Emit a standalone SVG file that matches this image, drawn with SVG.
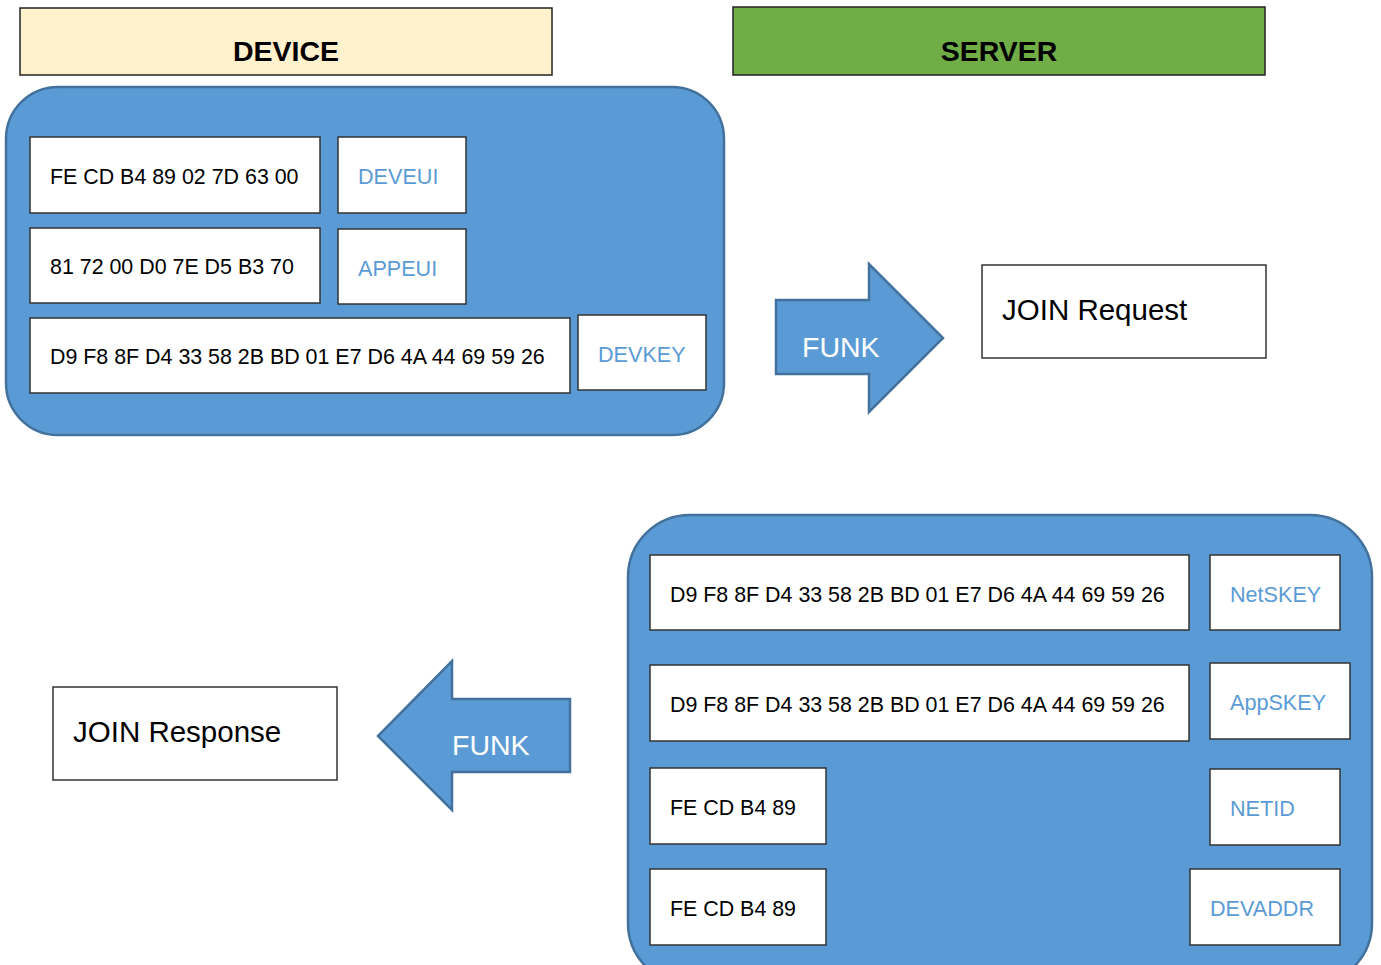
<svg xmlns="http://www.w3.org/2000/svg" width="1381" height="965" viewBox="0 0 1381 965">
  <style>
    .hdr { stroke: #222; stroke-width: 1.5; }
    .hdr-text { font-family: "Liberation Sans", Arial, sans-serif; font-weight: bold; font-size: 28.5px; fill: #000; text-anchor: middle; }
    .panel { fill: #5B9BD5; stroke: #41719C; stroke-width: 2.5; }
    .box { fill: #fff; stroke: #333; stroke-width: 1.5; }
    .hex { font-family: "Liberation Sans", Arial, sans-serif; font-size: 21.4px; fill: #000; }
    .lbl { font-family: "Liberation Sans", Arial, sans-serif; font-size: 21.6px; fill: #5B9BD5; }
    .arrow { fill: #5B9BD5; stroke: #41719C; stroke-width: 2.5; }
    .funk { font-family: "Liberation Sans", Arial, sans-serif; font-size: 28.5px; fill: #fff; }
    .msg { font-family: "Liberation Sans", Arial, sans-serif; font-size: 29.5px; fill: #000; }
  </style>

  <!-- column headers -->
  <g id="device-header">
    <rect class="hdr" x="20" y="8" width="532" height="67" fill="#FFF2CC"/>
    <text class="hdr-text" x="286" y="61">DEVICE</text>
  </g>
  <g id="server-header">
    <rect class="hdr" x="733" y="7" width="532" height="68" fill="#70AD47"/>
    <text class="hdr-text" x="999" y="61">SERVER</text>
  </g>

  <!-- device key store -->
  <g id="device-panel">
    <rect class="panel" x="6" y="87" width="718" height="348" rx="52" ry="52"/>
    <g id="deveui">
      <rect class="box" x="30" y="137" width="290" height="76"/>
      <text class="hex" x="50" y="184">FE CD B4 89 02 7D 63 00</text>
      <rect class="box" x="338" y="137" width="128" height="76"/>
      <text class="lbl" x="358" y="184">DEVEUI</text>
    </g>
    <g id="appeui">
      <rect class="box" x="30" y="228" width="290" height="75"/>
      <text class="hex" x="50" y="274">81 72 00 D0 7E D5 B3 70</text>
      <rect class="box" x="338" y="229" width="128" height="75"/>
      <text class="lbl" x="358" y="276">APPEUI</text>
    </g>
    <g id="devkey">
      <rect class="box" x="30" y="318" width="540" height="75"/>
      <text class="hex" x="50" y="364">D9 F8 8F D4 33 58 2B BD 01 E7 D6 4A 44 69 59 26</text>
      <rect class="box" x="578" y="315" width="128" height="75"/>
      <text class="lbl" x="598" y="362">DEVKEY</text>
    </g>
  </g>

  <!-- server key store -->
  <g id="server-panel">
    <rect class="panel" x="628" y="515" width="744" height="470" rx="62" ry="62"/>
    <g id="netskey">
      <rect class="box" x="650" y="555" width="539" height="75"/>
      <text class="hex" x="670" y="602">D9 F8 8F D4 33 58 2B BD 01 E7 D6 4A 44 69 59 26</text>
      <rect class="box" x="1210" y="555" width="130" height="75"/>
      <text class="lbl" x="1230" y="602">NetSKEY</text>
    </g>
    <g id="appskey">
      <rect class="box" x="650" y="665" width="539" height="76"/>
      <text class="hex" x="670" y="712">D9 F8 8F D4 33 58 2B BD 01 E7 D6 4A 44 69 59 26</text>
      <rect class="box" x="1210" y="663" width="140" height="76"/>
      <text class="lbl" x="1230" y="710">AppSKEY</text>
    </g>
    <g id="netid">
      <rect class="box" x="650" y="768" width="176" height="76"/>
      <text class="hex" x="670" y="815">FE CD B4 89</text>
      <rect class="box" x="1210" y="769" width="130" height="76"/>
      <text class="lbl" x="1230" y="816">NETID</text>
    </g>
    <g id="devaddr">
      <rect class="box" x="650" y="869" width="176" height="76"/>
      <text class="hex" x="670" y="916">FE CD B4 89</text>
      <rect class="box" x="1190" y="869" width="150" height="76"/>
      <text class="lbl" x="1210" y="916">DEVADDR</text>
    </g>
  </g>

  <!-- flow arrows -->
  <g id="connectors">
    <g id="funk-uplink">
      <path class="arrow" d="M776,300 H869 V264 L943,338 L869,412 V374 H776 Z"/>
      <text class="funk" x="802" y="357">FUNK</text>
    </g>
    <g id="funk-downlink">
      <path class="arrow" d="M570,699 H452 V661 L378,736 L452,810 V772 H570 Z"/>
      <text class="funk" x="452" y="755">FUNK</text>
    </g>
  </g>

  <!-- messages -->
  <g id="join-request">
    <rect class="box" x="982" y="265" width="284" height="93"/>
    <text class="msg" x="1002" y="320">JOIN Request</text>
  </g>
  <g id="join-response">
    <rect class="box" x="53" y="687" width="284" height="93"/>
    <text class="msg" x="73" y="742">JOIN Response</text>
  </g>
</svg>
